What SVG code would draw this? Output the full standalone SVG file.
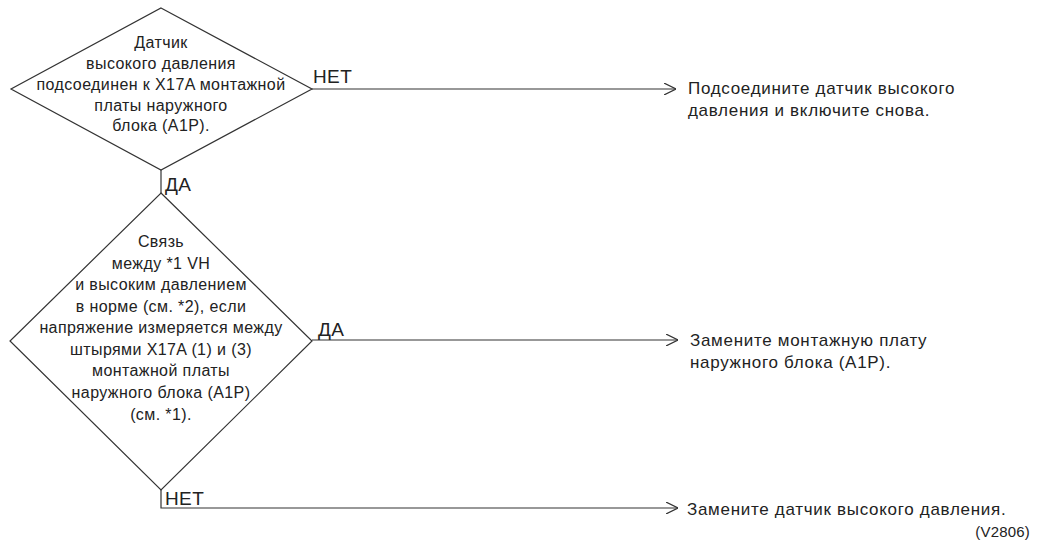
<svg xmlns="http://www.w3.org/2000/svg" width="1042" height="543" viewBox="0 0 1042 543">
  <style>
    .shape { fill: none; stroke: #333; stroke-width: 1.2; }
    .wire { fill: none; stroke: #333; stroke-width: 1.2; }
    text { font-family: "Liberation Sans", Arial, sans-serif; fill: #222; }
    .q { font-size: 16px; letter-spacing: 0.4px; text-anchor: middle; }
    .act { font-size: 17px; letter-spacing: 0.7px; }
    .lbl { font-size: 19px; letter-spacing: 0.4px; }
    .ref { font-size: 15px; letter-spacing: 0.2px; text-anchor: end; }
  </style>
  <defs>
    <!-- open chevron arrowhead -->
    <marker id="chev" viewBox="0 0 12 12" refX="12" refY="6" markerWidth="12" markerHeight="12" markerUnits="userSpaceOnUse" orient="auto">
      <path d="M0,0 L12,6 L0,12" fill="none" stroke="#333" stroke-width="1.2"/>
    </marker>
  </defs>

  <!-- connectors -->
  <g id="connectors">
    <line class="wire" x1="312" y1="89" x2="676" y2="89" marker-end="url(#chev)"/>
    <line class="wire" x1="161" y1="170" x2="161" y2="193"/>
    <line class="wire" x1="312" y1="340" x2="678" y2="340" marker-end="url(#chev)"/>
    <polyline class="wire" points="161,490 161,508 678,508" marker-end="url(#chev)"/>
    <text class="lbl" x="313" y="83">НЕТ</text>
    <text class="lbl" x="165" y="191">ДА</text>
    <text class="lbl" x="318" y="336">ДА</text>
    <text class="lbl" x="165" y="505">НЕТ</text>
  </g>

  <!-- decision 1 -->
  <g id="decision-sensor-connected">
    <polygon class="shape" points="161,8 312,89 161,170 11,89"/>
    <text class="q" x="161" y="48">Датчик</text>
    <text class="q" x="161" y="69">высокого давления</text>
    <text class="q" x="161" y="90">подсоединен к X17A монтажной</text>
    <text class="q" x="161" y="111">платы наружного</text>
    <text class="q" x="161" y="131">блока (A1P).</text>
  </g>

  <!-- decision 2 -->
  <g id="decision-voltage-check">
    <polygon class="shape" points="161,193 312,341 161,490 10,341"/>
    <text class="q" x="161" y="247">Связь</text>
    <text class="q" x="161" y="269">между *1 VH</text>
    <text class="q" x="161" y="290">и высоким давлением</text>
    <text class="q" x="161" y="312">в норме (см. *2), если</text>
    <text class="q" x="161" y="333">напряжение измеряется между</text>
    <text class="q" x="161" y="355">штырями X17A (1) и (3)</text>
    <text class="q" x="161" y="376">монтажной платы</text>
    <text class="q" x="161" y="398">наружного блока (A1P)</text>
    <text class="q" x="161" y="420">(см. *1).</text>
  </g>

  <!-- actions -->
  <g id="action-connect-sensor">
    <text class="act" x="688" y="94">Подсоедините датчик высокого</text>
    <text class="act" x="688" y="116">давления и включите снова.</text>
  </g>
  <g id="action-replace-board">
    <text class="act" x="690" y="346">Замените монтажную плату</text>
    <text class="act" x="690" y="368">наружного блока (A1P).</text>
  </g>
  <g id="action-replace-sensor">
    <text class="act" x="687" y="515">Замените датчик высокого давления.</text>
  </g>

  <text class="ref" x="1030" y="537">(V2806)</text>
</svg>
